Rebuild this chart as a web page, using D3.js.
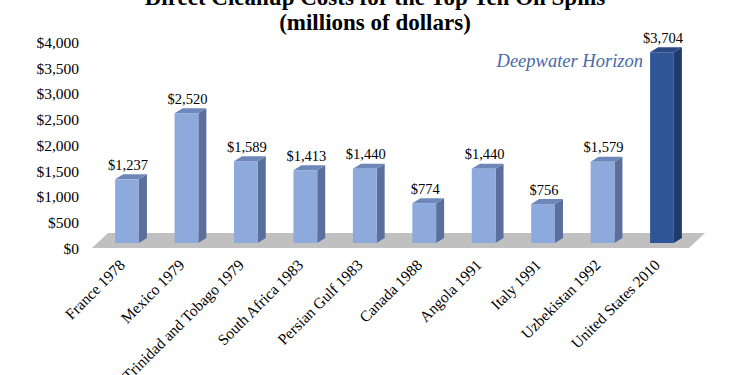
<!DOCTYPE html>
<html>
<head>
<meta charset="utf-8">
<script src="https://cdn.jsdelivr.net/npm/d3@7"></script>
<style>
  body { margin: 0; background: #fff; }
  text { font-family: "Liberation Serif", "Times New Roman", serif; }
</style>
</head>
<body>
<div id="chart"></div>
<script>
// Data
const categories = ['France 1978', 'Mexico 1979', 'Trinidad and Tobago 1979', 'South Africa 1983',
  'Persian Gulf 1983', 'Canada 1988', 'Angola 1991', 'Italy 1991', 'Uzbekistan 1992', 'United States 2010']
const costs = [1237, 2520, 1589, 1413, 1440, 774, 1440, 756, 1579, 3704]
const yTicks = [0, 500, 1000, 1500, 2000, 2500, 3000, 3500, 4000]
const highlight = 'United States 2010'

function draw() {
  const dataset = categories.map((c, i) => ({ name: c, cost: costs[i] }))

  // Dimensions
  let dimensions = {
    width: 750,
    height: 375,
  }
  const depth = { dx: 8, dy: -5 }
  const floorDepth = { dx: 16, dy: -15 }

  const svg = d3.select('#chart')
    .append('svg')
    .attr('width', dimensions.width)
    .attr('height', dimensions.height)

  // Scales
  const x = d3.scaleBand()
    .domain(categories)
    .range([97.3, 691.7])
    .paddingInner(0.6)
    .paddingOuter(0.3)

  const y = d3.scaleLinear()
    .domain([0, 4000])
    .range([243, 37])

  const fmt = d3.format('$,')

  // floor
  const fx0 = 92, fx1 = 689, fy = 248
  svg.append('polygon')
    .attr('points', [
      [fx0, fy], [fx0 + floorDepth.dx, fy + floorDepth.dy],
      [fx1 + floorDepth.dx, fy + floorDepth.dy], [fx1, fy]
    ].join(' '))
    .attr('fill', '#c0c0c0')

  // bars
  const colors = {
    light: { front: '#8eaadc', side: '#5a6f9c', top: '#6e87b9' },
    dark: { front: '#2f5597', side: '#1f3b6b', top: '#2a4a86' }
  }
  const pal = d => d.name === highlight ? colors.dark : colors.light

  const bars = svg.append('g')
    .selectAll('g')
    .data(dataset)
    .join('g')

  bars.append('polygon') // side
    .attr('points', d => {
      const x1 = x(d.name) + x.bandwidth()
      return [[x1, y(0)], [x1 + depth.dx, y(0) + depth.dy],
        [x1 + depth.dx, y(d.cost) + depth.dy], [x1, y(d.cost)]].join(' ')
    })
    .attr('fill', d => pal(d).side)

  bars.append('polygon') // top
    .attr('points', d => {
      const x0 = x(d.name), x1 = x0 + x.bandwidth(), yt = y(d.cost)
      return [[x0, yt], [x0 + depth.dx, yt + depth.dy],
        [x1 + depth.dx, yt + depth.dy], [x1, yt]].join(' ')
    })
    .attr('fill', d => pal(d).top)

  bars.append('rect') // front
    .attr('x', d => x(d.name))
    .attr('y', d => y(d.cost))
    .attr('width', x.bandwidth())
    .attr('height', d => y(0) - y(d.cost))
    .attr('fill', d => pal(d).front)

  // value labels
  svg.append('g')
    .selectAll('text')
    .data(dataset)
    .join('text')
    .attr('x', d => x(d.name) + x.bandwidth() / 2 + 1)
    .attr('y', d => y(d.cost) - 9.5)
    .attr('text-anchor', 'middle')
    .style('font-size', '14.5px')
    .text(d => fmt(d.cost))

  // y axis
  const yAxis = d3.axisLeft(y)
    .tickValues(yTicks)
    .tickFormat(fmt)
    .tickSize(0)
    .tickPadding(0)

  const yAxisGroup = svg.append('g')
    .attr('transform', 'translate(79, 5.5)')
    .call(yAxis)
  yAxisGroup.select('.domain').remove()
  yAxisGroup.selectAll('text')
    .style('font-family', '"Liberation Serif", serif')
    .style('font-size', '15.5px')
    .attr('fill', '#000')

  // category labels
  svg.append('g')
    .selectAll('text')
    .data(categories)
    .join('text')
    .attr('transform', d => `translate(${x(d) + x.bandwidth() / 2 - 1}, 266) rotate(-45)`)
    .attr('text-anchor', 'end')
    .style('font-size', '15.5px')
    .text(d => d)

  // annotation
  svg.append('text')
    .attr('x', 643)
    .attr('y', 67)
    .attr('text-anchor', 'end')
    .attr('fill', '#4a6aa6')
    .style('font-style', 'italic')
    .style('font-size', '18.5px')
    .text('Deepwater Horizon')

  // title
  const title = svg.append('text')
    .attr('text-anchor', 'middle')
    .style('font-weight', 'bold')
    .style('font-size', '23px')
  title.append('tspan').attr('x', 375).attr('y', 5)
    .text('Direct Cleanup Costs for the Top Ten Oil Spills')
  title.append('tspan').attr('x', 375).attr('y', 30)
    .text('(millions of dollars)')
}

draw()
</script>
</body>
</html>
